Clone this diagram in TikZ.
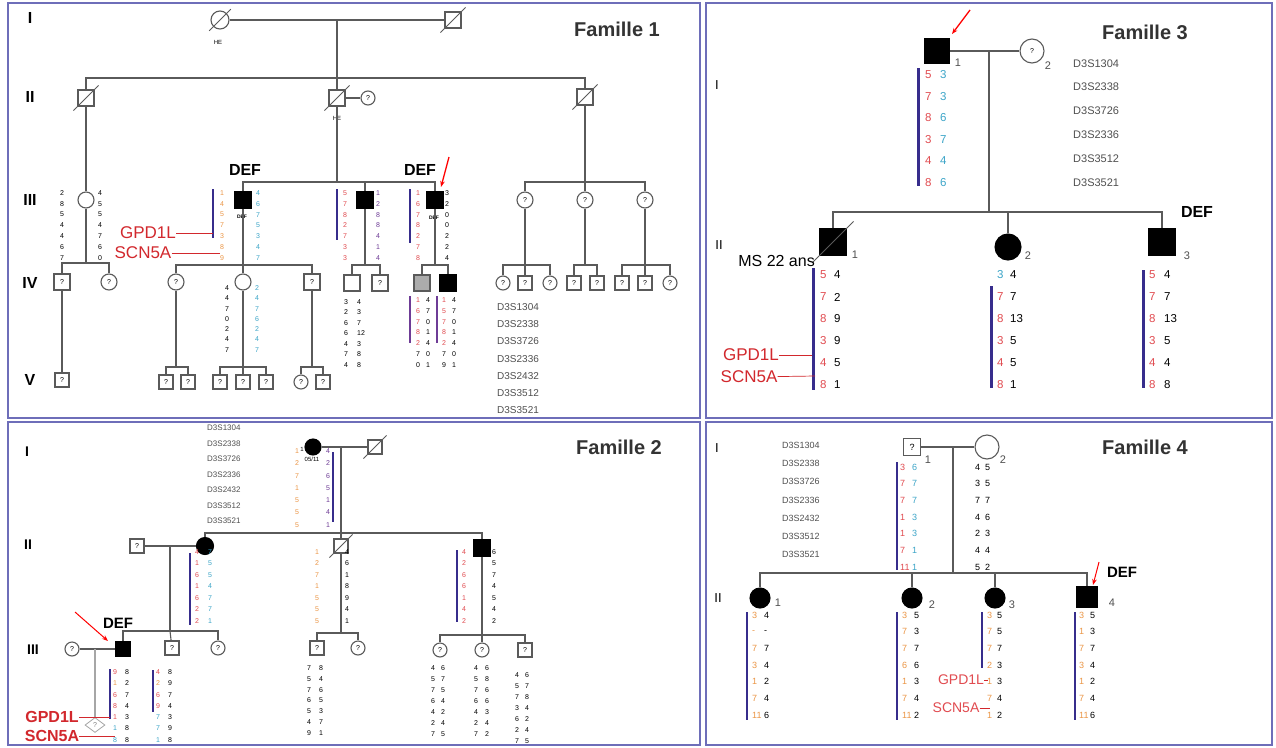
\documentclass[tikz,border=0pt]{standalone}
\usepackage{fontspec}
\setmainfont{Liberation Sans}
\usepackage{tikz}
\usepackage{xcolor}
\usetikzlibrary{positioning, arrows.meta, shapes.geometric}

\definecolor{frameblue}{RGB}{110,110,185}
\definecolor{nred}{RGB}{225,75,80}
\definecolor{norange}{RGB}{235,150,70}
\definecolor{ncyan}{RGB}{60,165,200}
\definecolor{npurple}{RGB}{110,60,150}
\definecolor{barblue}{RGB}{55,45,140}
\definecolor{lineg}{RGB}{90,90,90}
\definecolor{markg}{RGB}{80,80,80}
\definecolor{genred}{RGB}{210,40,45}

\begin{document}
\begin{tikzpicture}[x=1pt, y=-1pt,
    ped/.style={draw=lineg, line width=1.1pt},
    male/.style={ped, rectangle, minimum size=16pt, inner sep=0pt, font=\fontsize{7}{7}\selectfont},
    female/.style={male, circle},
    sm/.style={minimum size=14pt},
    aff/.style={fill=black, draw=black},
    frame/.style={draw=frameblue, line width=2pt},
    bar/.style={draw=barblue, line width=2pt},
    gen/.style={font=\fontsize{16}{16}\selectfont\bfseries, inner sep=0pt},
    title/.style={font=\fontsize{20}{20}\selectfont\bfseries, text=black!80, inner sep=0pt},
    deftxt/.style={font=\fontsize{16}{16}\selectfont\bfseries, inner sep=0pt},
    gene/.style={text=genred, font=\fontsize{17}{17}\selectfont, inner sep=0pt},
    genel/.style={draw=genred, line width=0.7pt},
    ptr/.style={draw=red, line width=1.3pt, -{Stealth[length=6pt]}},
    tag/.style={font=\fontsize{6}{6}\selectfont, inner sep=0pt},
    mk/.style={font=\fontsize{10}{10}\selectfont, text=markg, anchor=west, inner sep=0pt},
    na/.style={font=\fontsize{7}{7}\selectfont, anchor=west, inner sep=0pt},
    nb/.style={font=\fontsize{11.5}{11.5}\selectfont, anchor=west, inner sep=0pt},
    nc/.style={font=\fontsize{9}{9}\selectfont, anchor=west, inner sep=0pt},
    num/.style={font=\fontsize{11}{11}\selectfont, text=markg, inner sep=0pt},
  ]
  \useasboundingbox (0,0) rectangle (1276,747);
  \fill[white] (0,0) rectangle (1276,747);
  \draw[frame] (8,3) rectangle (700,418);
  \draw[frame] (706,3) rectangle (1272,418);
  \draw[frame] (8,422) rectangle (700,745);
  \draw[frame] (706,422) rectangle (1272,745);

  % Famille 1
  \node[gen] (p1g1) at (30,18) {I};
  \node[gen] (p1g2) at (30,97) {II};
  \node[gen] (p1g3) at (30,200) {III};
  \node[gen] (p1g4) at (30,283) {IV};
  \node[gen] (p1g5) at (30,380) {V};
  \node[title] (p1t) at (617,29) {Famille 1};

  \node[female, minimum size=18pt] (p1i1) at (220,20) {};
  \node[male] (p1i2) at (453,20) {};
  \node[tag] (p1he1) at (218,42) {HE};
  \draw[ped] (p1i1) -- (p1i2);
  \coordinate (p1m1) at (337,20);
  \coordinate (p1s1) at (337,78);
  \draw[ped] (p1m1) -- (p1s1);

  \node[male] (p1ii1) at (86,98) {};
  \node[male] (p1ii2) at (337,98) {};
  \node[female, sm] (p1ii2w) at (368,98) {?};
  \node[male] (p1ii3) at (585,97) {};
  \node[tag] (p1he2) at (337,118) {HE};
  \draw[ped] (p1ii1) |- (p1s1) -| (p1ii3);
  \draw[ped] (p1s1) -- (p1ii2);
  \draw[ped] (p1ii2) -- (p1ii2w);
  \foreach \n in {p1i1,p1i2,p1ii1,p1ii2,p1ii3}
    \draw[ped, line width=0.8pt] ([shift={(-4pt,-4pt)}]\n.south west) -- ([shift={(4pt,4pt)}]\n.north east);

  \node[female] (p1iii1) at (86,200) {};
  \node[male, aff] (p1iii2) at (243,200) {};
  \node[male, aff] (p1iii3) at (365,200) {};
  \node[male, aff] (p1iii4) at (435,200) {};
  \node[female] (p1iii5) at (525,200) {?};
  \node[female] (p1iii6) at (585,200) {?};
  \node[female] (p1iii7) at (645,200) {?};
  \coordinate (p1s2) at (337,182);
  \coordinate (p1s3) at (585,182);
  \draw[ped] (p1ii1) -- (p1iii1);
  \draw[ped] (p1ii2) -- (p1s2);
  \draw[ped] (p1iii2) |- (p1s2) -| (p1iii4);
  \draw[ped] (p1s2) -| (p1iii3);
  \draw[ped] (p1ii3) -- (p1s3);
  \draw[ped] (p1iii5) |- (p1s3) -| (p1iii7);
  \draw[ped] (p1s3) -- (p1iii6);
  \node[deftxt] (p1def1) at (245,170) {DEF};
  \node[deftxt] (p1def2) at (420,170) {DEF};
  \coordinate (p1a1) at (449,157);
  \coordinate (p1a2) at (441,187);
  \draw[ptr] (p1a1) -- (p1a2);
  \node[tag, font=\fontsize{5}{5}\selectfont\bfseries] (p1d1) at (242,217) {DEF};
  \node[tag, font=\fontsize{5}{5}\selectfont\bfseries] (p1d2) at (434,218) {DEF};

  \coordinate (p1s4) at (86,263);
  \node[male] (p1iv1) at (62,282) {?};
  \node[female] (p1iv2) at (109,282) {?};
  \draw[ped] (p1iii1) -- (p1s4);
  \draw[ped] (p1iv1) |- (p1s4) -| (p1iv2);
  \coordinate (p1s5) at (243,265);
  \node[female] (p1iv3) at (176,282) {?};
  \node[female] (p1iv4) at (243,282) {};
  \node[male] (p1iv5) at (312,282) {?};
  \draw[ped] (p1iii2) -- (p1iv4);
  \draw[ped] (p1iv3) |- (p1s5) -| (p1iv5);
  \coordinate (p1s6) at (365,265);
  \node[male] (p1iv6) at (352,283) {};
  \node[male] (p1iv7) at (380,283) {?};
  \draw[ped] (p1iii3) -- (p1s6);
  \draw[ped] (p1iv6) |- (p1s6) -| (p1iv7);
  \coordinate (p1s7) at (435,265);
  \node[male, fill=gray!65] (p1iv8) at (422,283) {};
  \node[male, aff] (p1iv9) at (448,283) {};
  \draw[ped] (p1iii4) -- (p1s7);
  \draw[ped] (p1iv8) |- (p1s7) -| (p1iv9);
  \coordinate (p1s8) at (525,265);
  \node[female, sm] (p1iv10) at (503,283) {?};
  \node[male, sm] (p1iv11) at (525,283) {?};
  \node[female, sm] (p1iv12) at (550,283) {?};
  \draw[ped] (p1iii5) -- (p1iv11);
  \draw[ped] (p1iv10) |- (p1s8) -| (p1iv12);
  \coordinate (p1s9) at (585,265);
  \node[male, sm] (p1iv13) at (574,283) {?};
  \node[male, sm] (p1iv14) at (597,283) {?};
  \draw[ped] (p1iii6) -- (p1s9);
  \draw[ped] (p1iv13) |- (p1s9) -| (p1iv14);
  \coordinate (p1s10) at (645,265);
  \node[male, sm] (p1iv15) at (622,283) {?};
  \node[male, sm] (p1iv16) at (645,283) {?};
  \node[female, sm] (p1iv17) at (670,283) {?};
  \draw[ped] (p1iii7) -- (p1iv16);
  \draw[ped] (p1iv15) |- (p1s10) -| (p1iv17);

  \node[male, sm] (p1v1) at (62,380) {?};
  \draw[ped] (p1iv1) -- (p1v1);
  \coordinate (p1s11) at (176,367);
  \node[male, sm] (p1v2) at (166,382) {?};
  \node[male, sm] (p1v3) at (188,382) {?};
  \draw[ped] (p1iv3) -- (p1s11);
  \draw[ped] (p1v2) |- (p1s11) -| (p1v3);
  \coordinate (p1s12) at (243,367);
  \node[male, sm] (p1v4) at (220,382) {?};
  \node[male, sm] (p1v5) at (243,382) {?};
  \node[male, sm] (p1v6) at (266,382) {?};
  \draw[ped] (p1iv4) -- (p1v5);
  \draw[ped] (p1v4) |- (p1s12) -| (p1v6);
  \coordinate (p1s13) at (312,367);
  \node[female, sm] (p1v7) at (301,382) {?};
  \node[male, sm] (p1v8) at (323,382) {?};
  \draw[ped] (p1iv5) -- (p1s13);
  \draw[ped] (p1v7) |- (p1s13) -| (p1v8);

  \foreach \v [count=\k] in {2,8,5,4,4,6,7} \node[na] (p1aa\k) at (60,{182.2+10.8*\k}) {\v};
  \foreach \v [count=\k] in {4,5,5,4,7,6,0} \node[na] (p1ab\k) at (98,{182.2+10.8*\k}) {\v};
  \draw[bar] (213,189) -- (213,238);
  \foreach \v [count=\k] in {1,4,5,7,3,8,9} \node[na, text=norange] (p1ba\k) at (220,{182.2+10.8*\k}) {\v};
  \foreach \v [count=\k] in {4,6,7,5,3,4,7} \node[na, text=ncyan] (p1bb\k) at (256,{182.2+10.8*\k}) {\v};
  \draw[bar] (337,189) -- (337,240);
  \foreach \v [count=\k] in {5,7,8,2,7,3,3} \node[na, text=nred] (p1ca\k) at (343,{182.2+10.8*\k}) {\v};
  \foreach \v [count=\k] in {1,2,8,8,4,1,4} \node[na, text=npurple] (p1cb\k) at (376,{182.2+10.8*\k}) {\v};
  \draw[bar] (410,189) -- (410,243);
  \foreach \v [count=\k] in {1,6,7,8,2,7,8} \node[na, text=nred] (p1da\k) at (416,{182.2+10.8*\k}) {\v};
  \foreach \v [count=\k] in {3,2,0,0,2,2,4} \node[na] (p1db\k) at (445,{182.2+10.8*\k}) {\v};
  \foreach \v [count=\k] in {4,4,7,0,2,4,7} \node[na] (p1ea\k) at (225,{277.7+10.3*\k}) {\v};
  \foreach \v [count=\k] in {2,4,7,6,2,4,7} \node[na, text=ncyan] (p1eb\k) at (255,{277.7+10.3*\k}) {\v};
  \foreach \v [count=\k] in {3,2,6,6,4,7,4} \node[na] (p1fa\k) at (344,{291.5+10.5*\k}) {\v};
  \foreach \v [count=\k] in {4,3,7,12,3,8,8} \node[na] (p1fb\k) at (357,{291.5+10.5*\k}) {\v};
  \draw[bar, draw=npurple] (410,296) -- (410,343);
  \foreach \v/\c [count=\k] in {1/nred,6/nred,7/nred,8/nred,2/nred,7/black,0/black} \node[na, text=\c] (p1ga\k) at (416,{289.2+10.8*\k}) {\v};
  \foreach \v [count=\k] in {4,7,0,1,4,0,1} \node[na] (p1gb\k) at (426,{289.2+10.8*\k}) {\v};
  \draw[bar, draw=npurple] (437,296) -- (437,343);
  \foreach \v/\c [count=\k] in {1/nred,5/nred,7/nred,8/nred,2/nred,7/black,9/black} \node[na, text=\c] (p1ha\k) at (442,{289.2+10.8*\k}) {\v};
  \foreach \v [count=\k] in {4,7,0,1,4,0,1} \node[na] (p1hb\k) at (452,{289.2+10.8*\k}) {\v};
  \foreach \m [count=\k] in {D3S1304,D3S2338,D3S3726,D3S2336,D3S2432,D3S3512,D3S3521}
    \node[mk] (p1mk\k) at (497,{289.8+17.2*\k}) {\m};

  \node[gene] (p1gpd) at (148,233) {GPD1L};
  \node[gene] (p1scn) at (143,253) {SCN5A};
  \coordinate (p1gpde) at (213,233);
  \coordinate (p1scne) at (220,253);
  \draw[genel] (p1gpd) -- (p1gpde);
  \draw[genel] (p1scn) -- (p1scne);

  % Famille 3
  \node[gen, font=\fontsize{13}{13}\selectfont] (p3g1) at (717,85) {I};
  \node[gen, font=\fontsize{13}{13}\selectfont] (p3g2) at (719,245) {II};
  \node[title] (p3t) at (1145,32) {Famille 3};
  \node[male, aff, minimum size=25pt] (p3i1) at (937,51) {};
  \node[female, minimum size=24pt] (p3i2) at (1032,51) {?};
  \node[num] (p3l1) at (958,63) {1};
  \node[num] (p3l2) at (1048,66) {2};
  \coordinate (p3a1) at (970,10);
  \coordinate (p3a2) at (952,34);
  \draw[ptr] (p3a1) -- (p3a2);
  \draw[ped] (p3i1) -- (p3i2);
  \coordinate (p3m) at (989,51);
  \coordinate (p3s) at (989,212);
  \coordinate (p3s2) at (1008,212);
  \draw[ped] (p3m) -- (p3s);
  \node[male, aff, minimum size=26pt] (p3ii1) at (833,242) {};
  \node[female, aff, minimum size=26pt] (p3ii2) at (1008,247) {};
  \node[male, aff, minimum size=26pt] (p3ii3) at (1162,242) {};
  \draw[ped] (p3ii1) |- (p3s) -| (p3ii3);
  \draw[ped] (p3s2) -- (p3ii2);
  \draw[ped, line width=0.8pt] ([shift={(-7pt,-7pt)}]p3ii1.south west) -- ([shift={(7pt,7pt)}]p3ii1.north east);
  \node[num] (p3l3) at (855,255) {1};
  \node[num] (p3l4) at (1028,256) {2};
  \node[num] (p3l5) at (1187,256) {3};
  \node[font=\fontsize{16}{16}\selectfont, inner sep=0pt, anchor=east] (p3ms) at (815,261) {MS 22 ans};
  \node[deftxt] (p3def) at (1197,212) {DEF};
  \foreach \m [count=\k] in {D3S1304,D3S2338,D3S3726,D3S2336,D3S3512,D3S3521}
    \node[mk, font=\fontsize{11}{11}\selectfont] (p3mk\k) at (1073,{39.6+23.8*\k}) {\m};
  \draw[bar, line width=3pt] (918,68) -- (918,186);
  \foreach \v [count=\k] in {5,7,8,3,4,8} \node[nb, text=nred] (p3aa\k) at (925,{53.5+21.5*\k}) {\v};
  \foreach \v [count=\k] in {3,3,6,7,4,6} \node[nb, text=ncyan] (p3ab\k) at (940,{53.5+21.5*\k}) {\v};
  \draw[bar, line width=3pt] (813,268) -- (813,390);
  \foreach \v [count=\k] in {5,7,8,3,4,8} \node[nb, text=nred] (p3ba\k) at (820,{253+22*\k}) {\v};
  \foreach \v [count=\k] in {4,2,9,9,5,1} \node[nb] (p3bb\k) at (834,{253+22*\k}) {\v};
  \draw[bar, line width=3pt] (991,286) -- (991,388);
  \foreach \v/\c [count=\k] in {3/ncyan,7/nred,8/nred,3/nred,4/nred,8/nred} \node[nb, text=\c] (p3ca\k) at (997,{253+22*\k}) {\v};
  \foreach \v [count=\k] in {4,7,13,5,5,1} \node[nb] (p3cb\k) at (1010,{253+22*\k}) {\v};
  \draw[bar, line width=3pt] (1143,270) -- (1143,388);
  \foreach \v [count=\k] in {5,7,8,3,4,8} \node[nb, text=nred] (p3da\k) at (1149,{253+22*\k}) {\v};
  \foreach \v [count=\k] in {4,7,13,5,4,8} \node[nb] (p3db\k) at (1164,{253+22*\k}) {\v};
  \node[gene] (p3gpd) at (751,355) {GPD1L};
  \node[gene] (p3scn) at (749,377) {SCN5A};
  \coordinate (p3gpde) at (812,355);
  \coordinate (p3scne) at (815,376);
  \draw[genel] (p3gpd) -- (p3gpde);
  \draw[genel] (p3scn) -- (p3scne);

  % Famille 2
  \node[gen, font=\fontsize{14}{14}\selectfont\bfseries] (p2g1) at (27,452) {I};
  \node[gen, font=\fontsize{14}{14}\selectfont\bfseries] (p2g2) at (28,545) {II};
  \node[gen, font=\fontsize{14}{14}\selectfont\bfseries] (p2g3) at (33,650) {III};
  \node[title] (p2t) at (619,447) {Famille 2};
  \foreach \m [count=\k] in {D3S1304,D3S2338,D3S3726,D3S2336,D3S2432,D3S3512,D3S3521}
    \node[mk, font=\fontsize{8}{8}\selectfont] (p2mk\k) at (207,{412.5+15.5*\k}) {\m};
  \node[female, aff] (p2i1) at (313,447) {};
  \node[male, sm] (p2i2) at (375,447) {};
  \node[tag] (p2l1) at (302,449) {1};
  \node[tag] (p2l2) at (312,459) {05/11};
  \draw[ped] (p2i1) -- (p2i2);
  \coordinate (p2m1) at (341,447);
  \coordinate (p2s1) at (341,533);
  \draw[ped] (p2m1) -- (p2s1);
  \node[male, sm] (p2ii1) at (137,546) {?};
  \node[female, aff, minimum size=17pt] (p2ii2) at (205,546) {};
  \node[male, sm] (p2ii3) at (341,546) {};
  \node[male, aff] (p2ii4) at (482,548) {};
  \draw[ped] (p2ii2) |- (p2s1) -| (p2ii4);
  \draw[ped] (p2s1) -- (p2ii3);
  \draw[ped] (p2ii1) -- (p2ii2);
  \foreach \n in {p2i2,p2ii3}
    \draw[ped, line width=0.8pt] ([shift={(-4pt,-4pt)}]\n.south west) -- ([shift={(4pt,4pt)}]\n.north east);
  \coordinate (p2m2) at (170,546);
  \coordinate (p2s2) at (170,631);
  \draw[ped] (p2m2) -- (p2s2);
  \node[female, sm] (p2iii1) at (72,649) {?};
  \node[male, aff, minimum size=15pt] (p2iii2) at (123,649) {};
  \node[male, sm] (p2iii3) at (172,648) {?};
  \node[female, sm] (p2iii4) at (218,648) {?};
  \draw[ped] (p2iii2) |- (p2s2) -| (p2iii4);
  \draw[ped] (p2s2) -- (p2iii3);
  \draw[ped] (p2iii1) -- (p2iii2);
  \coordinate (p2m3) at (95,649);
  \node[diamond, draw=gray!70, line width=0.8pt, minimum width=20pt, minimum height=15pt, inner sep=0pt, text=gray, font=\fontsize{7}{7}\selectfont] (p2iv1) at (95,725) {?};
  \draw[ped, draw=gray!70] (p2m3) -- (p2iv1);
  \node[deftxt, font=\fontsize{15}{15}\selectfont\bfseries] (p2def) at (118,623) {DEF};
  \coordinate (p2a1) at (75,612);
  \coordinate (p2a2) at (108,641);
  \draw[ptr, line width=1pt] (p2a1) -- (p2a2);
  \coordinate (p2s3) at (341,633);
  \node[male, sm] (p2iii5) at (317,648) {?};
  \node[female, sm] (p2iii6) at (358,648) {?};
  \draw[ped] (p2ii3) -- (p2s3);
  \draw[ped] (p2iii5) |- (p2s3) -| (p2iii6);
  \coordinate (p2s4) at (482,635);
  \node[female, sm] (p2iii7) at (440,650) {?};
  \node[female, sm] (p2iii8) at (482,650) {?};
  \node[male, sm] (p2iii9) at (525,650) {?};
  \draw[ped] (p2ii4) -- (p2iii8);
  \draw[ped] (p2iii7) |- (p2s4) -| (p2iii9);

  \foreach \v [count=\k] in {1,2,7,1,5,5,5} \node[na, text=norange] (p2aa\k) at (295,{438.7+12.3*\k}) {\v};
  \foreach \v [count=\k] in {4,2,6,5,1,4,1} \node[na, text=npurple] (p2ab\k) at (326,{438.7+12.3*\k}) {\v};
  \draw[bar] (333,452) -- (333,522);
  \draw[bar] (190,553) -- (190,625);
  \foreach \v [count=\k] in {4,1,6,1,6,2,2} \node[na, text=nred] (p2ba\k) at (195,{540.5+11.5*\k}) {\v};
  \foreach \v [count=\k] in {7,5,5,4,7,7,1} \node[na, text=ncyan] (p2bb\k) at (208,{540.5+11.5*\k}) {\v};
  \foreach \v [count=\k] in {1,2,7,1,5,5,5} \node[na, text=norange] (p2ca\k) at (315,{540.5+11.5*\k}) {\v};
  \foreach \v [count=\k] in {4,6,1,8,9,4,1} \node[na] (p2cb\k) at (345,{540.5+11.5*\k}) {\v};
  \draw[bar] (457,550) -- (457,622);
  \foreach \v [count=\k] in {4,2,6,6,1,4,2} \node[na, text=nred] (p2da\k) at (462,{540.5+11.5*\k}) {\v};
  \foreach \v [count=\k] in {6,5,7,4,5,4,2} \node[na] (p2db\k) at (492,{540.5+11.5*\k}) {\v};
  \draw[bar] (110,669) -- (110,719);
  \foreach \v/\c [count=\k] in {9/nred,1/norange,6/nred,8/nred,1/nred,1/ncyan,8/ncyan} \node[na, text=\c] (p2ea\k) at (113,{660.7+11.3*\k}) {\v};
  \foreach \v [count=\k] in {8,2,7,4,3,8,8} \node[na] (p2eb\k) at (125,{660.7+11.3*\k}) {\v};
  \draw[bar] (153,670) -- (153,712);
  \foreach \v/\c [count=\k] in {4/nred,2/norange,6/nred,9/nred,7/ncyan,7/ncyan,1/ncyan} \node[na, text=\c] (p2fa\k) at (156,{660.7+11.3*\k}) {\v};
  \foreach \v [count=\k] in {8,9,7,4,3,9,8} \node[na] (p2fb\k) at (168,{660.7+11.3*\k}) {\v};
  \foreach \v [count=\k] in {7,5,7,6,5,4,9} \node[na] (p2ga\k) at (307,{657.2+10.8*\k}) {\v};
  \foreach \v [count=\k] in {8,4,6,5,3,7,1} \node[na] (p2gb\k) at (319,{657.2+10.8*\k}) {\v};
  \foreach \v [count=\k] in {4,5,7,6,4,2,7} \node[na] (p2ha\k) at (431,{657+11*\k}) {\v};
  \foreach \v [count=\k] in {6,7,5,4,2,4,5} \node[na] (p2hb\k) at (441,{657+11*\k}) {\v};
  \foreach \v [count=\k] in {4,5,7,6,4,2,7} \node[na] (p2ia\k) at (474,{657+11*\k}) {\v};
  \foreach \v [count=\k] in {6,8,6,6,3,4,2} \node[na] (p2ib\k) at (485,{657+11*\k}) {\v};
  \foreach \v [count=\k] in {4,5,7,3,6,2,7} \node[na] (p2ja\k) at (515,{664+11*\k}) {\v};
  \foreach \v [count=\k] in {6,7,8,4,2,4,5} \node[na] (p2jb\k) at (525,{664+11*\k}) {\v};
  \node[gene, font=\fontsize{16}{16}\selectfont\bfseries] (p2gpd) at (52,717) {GPD1L};
  \node[gene, font=\fontsize{16}{16}\selectfont\bfseries] (p2scn) at (52,736) {SCN5A};
  \coordinate (p2gpde) at (110,717);
  \coordinate (p2scne) at (115,736);
  \draw[genel] (p2gpd) -- (p2gpde);
  \draw[genel] (p2scn) -- (p2scne);

  % Famille 4
  \node[gen, font=\fontsize{13}{13}\selectfont] (p4g1) at (717,448) {I};
  \node[gen, font=\fontsize{13}{13}\selectfont] (p4g2) at (718,598) {II};
  \node[title] (p4t) at (1145,447) {Famille 4};
  \foreach \m [count=\k] in {D3S1304,D3S2338,D3S3726,D3S2336,D3S2432,D3S3512,D3S3521}
    \node[mk, font=\fontsize{9}{9}\selectfont] (p4mk\k) at (782,{426.7+18.3*\k}) {\m};
  \node[male, minimum size=17pt, font=\fontsize{9}{9}\selectfont] (p4i1) at (912,447) {?};
  \node[female, minimum size=24pt] (p4i2) at (987,447) {};
  \node[num] (p4l1) at (928,460) {1};
  \node[num] (p4l2) at (1003,460) {2};
  \draw[ped] (p4i1) -- (p4i2);
  \coordinate (p4m) at (953,447);
  \coordinate (p4s) at (953,573);
  \coordinate (p4s2) at (912,573);
  \coordinate (p4s3) at (995,573);
  \draw[ped] (p4m) -- (p4s);
  \node[female, aff, minimum size=20pt] (p4ii1) at (760,598) {};
  \node[female, aff, minimum size=20pt] (p4ii2) at (912,598) {};
  \node[female, aff, minimum size=20pt] (p4ii3) at (995,598) {};
  \node[male, aff, minimum size=20pt] (p4ii4) at (1087,597) {};
  \draw[ped] (p4ii1) |- (p4s) -| (p4ii4);
  \draw[ped] (p4s2) -- (p4ii2);
  \draw[ped] (p4s3) -- (p4ii3);
  \node[num] (p4l3) at (778,603) {1};
  \node[num] (p4l4) at (932,605) {2};
  \node[num] (p4l5) at (1012,605) {3};
  \node[num] (p4l6) at (1112,603) {4};
  \node[deftxt, font=\fontsize{15}{15}\selectfont\bfseries] (p4def) at (1122,572) {DEF};
  \coordinate (p4a1) at (1099,562);
  \coordinate (p4a2) at (1093,585);
  \draw[ptr, line width=1pt] (p4a1) -- (p4a2);
  \draw[bar, line width=2.5pt] (897,462) -- (897,570);
  \foreach \v [count=\k] in {3,7,7,1,1,7,11} \node[nc, text=nred] (p4aa\k) at (900,{450.3+16.7*\k}) {\v};
  \foreach \v [count=\k] in {6,7,7,3,3,1,1} \node[nc, text=ncyan] (p4ab\k) at (912,{450.3+16.7*\k}) {\v};
  \foreach \v [count=\k] in {4,3,7,4,2,4,5} \node[nc] (p4ba\k) at (975,{450.3+16.7*\k}) {\v};
  \foreach \v [count=\k] in {5,5,7,6,3,4,2} \node[nc] (p4bb\k) at (985,{450.3+16.7*\k}) {\v};
  \draw[bar, line width=2.5pt] (747,612) -- (747,720);
  \foreach \v [count=\k] in {3,-,7,3,1,7,11} \node[nc, text=norange] (p4ca\k) at (752,{598.3+16.7*\k}) {\v};
  \foreach \v [count=\k] in {4,-,7,4,2,4,6} \node[nc] (p4cb\k) at (764,{598.3+16.7*\k}) {\v};
  \draw[bar, line width=2.5pt] (897,612) -- (897,720);
  \foreach \v [count=\k] in {3,7,7,6,1,7,11} \node[nc, text=norange] (p4da\k) at (902,{598.3+16.7*\k}) {\v};
  \foreach \v [count=\k] in {5,3,7,6,3,4,2} \node[nc] (p4db\k) at (914,{598.3+16.7*\k}) {\v};
  \draw[bar, line width=2.5pt] (982,612) -- (982,668);
  \foreach \v [count=\k] in {3,7,7,2,1,7,1} \node[nc, text=norange] (p4ea\k) at (987,{598.3+16.7*\k}) {\v};
  \foreach \v [count=\k] in {5,5,7,3,3,4,2} \node[nc] (p4eb\k) at (997,{598.3+16.7*\k}) {\v};
  \draw[bar, line width=2.5pt] (1075,612) -- (1075,720);
  \foreach \v [count=\k] in {3,1,7,3,1,7,11} \node[nc, text=norange] (p4fa\k) at (1079,{598.3+16.7*\k}) {\v};
  \foreach \v [count=\k] in {5,3,7,4,2,4,6} \node[nc] (p4fb\k) at (1090,{598.3+16.7*\k}) {\v};
  \node[gene, font=\fontsize{14}{14}\selectfont, text=nred] (p4gpd) at (961,680) {GPD1L};
  \node[gene, font=\fontsize{14}{14}\selectfont, text=nred] (p4scn) at (956,708) {SCN5A};
  \coordinate (p4gpde) at (988,680);
  \coordinate (p4scne) at (990,708);
  \draw[genel] (p4gpd) -- (p4gpde);
  \draw[genel] (p4scn) -- (p4scne);
\end{tikzpicture}
\end{document}
